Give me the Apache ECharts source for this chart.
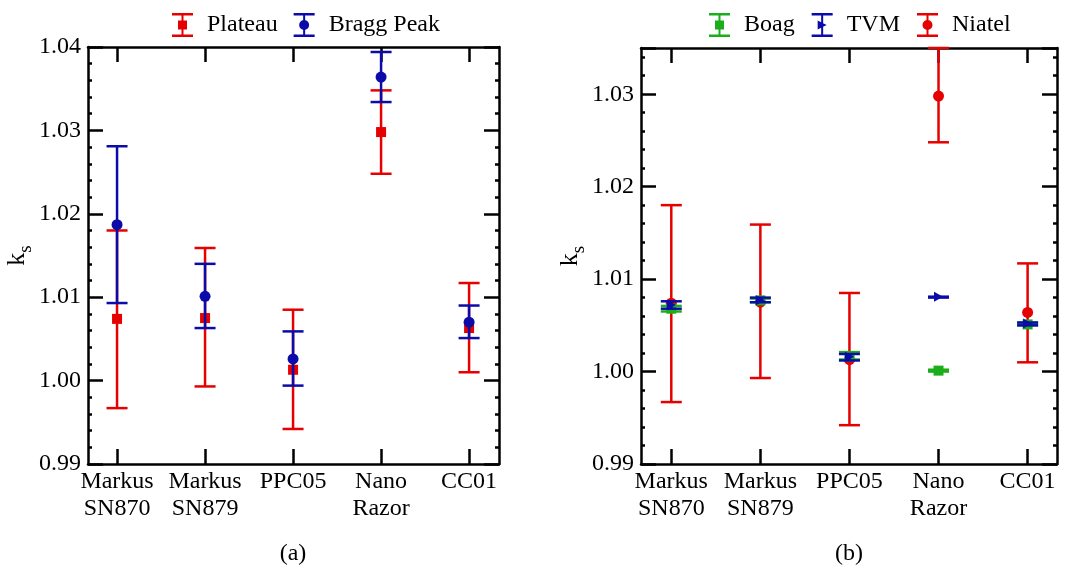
<!DOCTYPE html>
<html>
<head>
<meta charset="utf-8">
<script src="https://cdn.jsdelivr.net/npm/echarts@6/dist/echarts.min.js"></script>
<style>
  html, body { margin: 0; padding: 0; background: #fff; }
  #chart { width: 1074px; height: 569px; }
</style>
</head>
<body>
<div id="chart"></div>
<script>
// detectors on the x axis
var categories = ['Markus\nSN870', 'Markus\nSN879', 'PPC05', 'Nano\nRazor', 'CC01'];
var catIndex = [0, 1, 2, 3, 4];

// (a) plateau vs bragg peak
var plateauVal  = [1.0074, 1.0075, 1.0013, 1.0298, 1.0063];
var plateauLow  = [0.9967, 0.9993, 0.9942, 1.0248, 1.0010];
var plateauHigh = [1.0180, 1.0159, 1.0085, 1.0348, 1.0117];
var braggVal  = [1.0187, 1.0101, 1.0026, 1.0364, 1.0070];
var braggLow  = [1.0093, 1.0063, 0.9994, 1.0334, 1.0051];
var braggHigh = [1.0281, 1.0140, 1.0059, 1.0394, 1.0090];

// (b) Boag / TVM / Niatel
var boagVal  = [1.0068, 1.0077, 1.0016, 1.0001, 1.0051];
var boagLow  = [1.0065, 1.0075, 1.0013, 1.0000, 1.0050];
var boagHigh = [1.0071, 1.0079, 1.0021, 1.0002, 1.0053];
var tvmVal  = [1.0072, 1.0077, 1.0016, 1.0081, 1.0052];
var tvmLow  = [1.0068, 1.0075, 1.0012, 1.0080, 1.0050];
var tvmHigh = [1.0076, 1.0080, 1.0019, 1.0081, 1.0053];
var niatelVal  = [1.0074, 1.0075, 1.0013, 1.0298, 1.0064];
var niatelLow  = [0.9967, 0.9993, 0.9942, 1.0248, 1.0010];
var niatelHigh = [1.0180, 1.0159, 1.0085, 1.0350, 1.0117];

var RED = '#e60000', BLUE = '#0b0baa', GREEN = '#1aaf1a';
var FONT = 'Liberation Serif';

// legend icons: error bar + marker
var capPath = 'M0,0H21V2.5H0Z M9.5,2.5H11.5V21.5H9.5Z M0,21.5H21V24H0Z ';
var iconSquare = 'path://' + capPath + 'M6,7.5H15V16.5H6Z';
var iconCircle = 'path://' + capPath + 'M15.5,12A5,5,0,1,1,5.5,12A5,5,0,1,1,15.5,12Z';
var iconTri = 'path://' + capPath + 'M6,7.5L15,12L6,16.5Z';

function errData(lo, hi) {
  var d = [];
  for (var i = 0; i < catIndex.length; i++) d.push([catIndex[i], lo[i], hi[i]]);
  return d;
}
function ptData(v) {
  var d = [];
  for (var i = 0; i < catIndex.length; i++) d.push([catIndex[i], v[i]]);
  return d;
}

function renderErr(params, api) {
  var x = api.value(0);
  var p1 = api.coord([x, api.value(1)]);
  var p2 = api.coord([x, api.value(2)]);
  var hw = 10.5;
  var st = { stroke: api.visual('color'), lineWidth: 2.5, fill: null };
  return {
    type: 'group',
    children: [
      { type: 'line', shape: { x1: p1[0], y1: p1[1], x2: p2[0], y2: p2[1] }, style: st },
      { type: 'line', shape: { x1: p1[0] - hw, y1: p1[1], x2: p1[0] + hw, y2: p1[1] }, style: st },
      { type: 'line', shape: { x1: p2[0] - hw, y1: p2[1], x2: p2[0] + hw, y2: p2[1] }, style: st }
    ]
  };
}

// z keeps the drawing order: each error bar, then its markers, then the next group
function errSeries(name, color, lo, hi, ax, z) {
  return {
    name: name, type: 'custom', xAxisIndex: ax, yAxisIndex: ax,
    renderItem: renderErr, itemStyle: { color: color },
    encode: { x: 0, y: [1, 2] }, data: errData(lo, hi), clip: false, z: z
  };
}
function ptSeries(name, color, vals, ax, symbol, size, z) {
  return {
    name: name, type: 'scatter', xAxisIndex: ax, yAxisIndex: ax,
    symbol: symbol, symbolSize: size, itemStyle: { color: color, opacity: 1 },
    data: ptData(vals), z: z
  };
}

var axLine = { show: true, onZero: false, lineStyle: { color: '#000', width: 2.5 } };

function xAxes(min, max, grid) {
  return [{
    type: 'value', gridIndex: grid, position: 'bottom', min: min, max: max,
    axisLine: axLine,
    axisTick: { show: true, inside: true, length: 15, customValues: catIndex, lineStyle: { color: '#000', width: 2.5 } },
    axisLabel: {
      customValues: catIndex, margin: 4, color: '#000', fontFamily: FONT, fontSize: 24, lineHeight: 27,
      verticalAlign: 'top',
      formatter: function (v) { return categories[Math.round(v)]; }
    },
    splitLine: { show: false }
  }, {
    type: 'value', gridIndex: grid, position: 'top', min: min, max: max,
    axisLine: axLine,
    axisTick: { show: true, inside: true, length: 15, customValues: catIndex, lineStyle: { color: '#000', width: 2.5 } },
    axisLabel: { show: false },
    splitLine: { show: false }
  }];
}

function yAxes(max, grid) {
  var tick = { show: true, inside: true, length: 15, lineStyle: { color: '#000', width: 2.5 } };
  var minor = { show: true, splitNumber: 5, length: 4, lineStyle: { color: '#000', width: 2.5 } };
  return [{
    type: 'value', gridIndex: grid, position: 'left', min: 0.99, max: max, interval: 0.01,
    axisLine: axLine, axisTick: tick, minorTick: minor,
    axisLabel: {
      color: '#000', fontFamily: FONT, fontSize: 24, margin: 7, showMaxLabel: max === 1.04,
      formatter: function (v) { return v.toFixed(2); }
    },
    name: '{k|k}{s|s}', nameLocation: 'middle', nameGap: 56, nameRotate: 90,
    nameTextStyle: {
      rich: {
        k: { fontFamily: FONT, fontSize: 26, color: '#000', verticalAlign: 'bottom' },
        s: { fontFamily: FONT, fontSize: 19, color: '#000', verticalAlign: 'bottom', padding: [0, 0, -5, 0] }
      }
    },
    splitLine: { show: false }
  }, {
    type: 'value', gridIndex: grid, position: 'right', min: 0.99, max: max, interval: 0.01,
    axisLine: axLine, axisTick: tick, minorTick: minor,
    axisLabel: { show: false }, splitLine: { show: false }
  }];
}

var legendText = { fontFamily: FONT, fontSize: 24, color: '#000', padding: [0, 0, 0, 9] };

var option = {
  animation: false,
  backgroundColor: '#fff',
  grid: [
    { left: 88, top: 47, width: 411, height: 417 },
    { left: 641, top: 48, width: 416, height: 416 }
  ],
  legend: [{
    left: 172, top: 13, padding: 0, itemWidth: 21, itemHeight: 24, itemGap: 16,
    textStyle: legendText,
    data: [
      { name: 'Plateau', icon: iconSquare, itemStyle: { color: RED } },
      { name: 'Bragg Peak', icon: iconCircle, itemStyle: { color: BLUE } }
    ]
  }, {
    left: 709, top: 13, padding: 0, itemWidth: 21, itemHeight: 24, itemGap: 17,
    textStyle: legendText,
    data: [
      { name: 'Boag', icon: iconSquare, itemStyle: { color: GREEN } },
      { name: 'TVM', icon: iconTri, itemStyle: { color: BLUE } },
      { name: 'Niatel', icon: iconCircle, itemStyle: { color: RED } }
    ]
  }],
  xAxis: xAxes(-0.33, 4.34, 0).concat(xAxes(-0.34, 4.33, 1)),
  yAxis: yAxes(1.04, 0).concat(yAxes(1.035, 1)),
  graphic: [
    { type: 'text', x: 293, y: 554, style: { text: '(a)', fontFamily: FONT, fontSize: 24, fill: '#000', textAlign: 'center', textVerticalAlign: 'middle' } },
    { type: 'text', x: 849, y: 554, style: { text: '(b)', fontFamily: FONT, fontSize: 24, fill: '#000', textAlign: 'center', textVerticalAlign: 'middle' } }
  ],
  series: [
    errSeries('Plateau', RED, plateauLow, plateauHigh, 0, 2),
    ptSeries('Plateau', RED, plateauVal, 0, 'rect', 10, 3),
    errSeries('Bragg Peak', BLUE, braggLow, braggHigh, 0, 4),
    ptSeries('Bragg Peak', BLUE, braggVal, 0, 'circle', 11, 5),

    errSeries('Niatel', RED, niatelLow, niatelHigh, 2, 2),
    ptSeries('Niatel', RED, niatelVal, 2, 'circle', 11, 3),
    errSeries('Boag', GREEN, boagLow, boagHigh, 2, 4),
    ptSeries('Boag', GREEN, boagVal, 2, 'rect', 10, 5),
    errSeries('TVM', BLUE, tvmLow, tvmHigh, 2, 6),
    ptSeries('TVM', BLUE, tvmVal, 2, 'path://M0,0L10,6L0,12Z', [9, 10], 7)
  ]
};

var chart = echarts.init(document.getElementById('chart'));
chart.setOption(option);
</script>
</body>
</html>
